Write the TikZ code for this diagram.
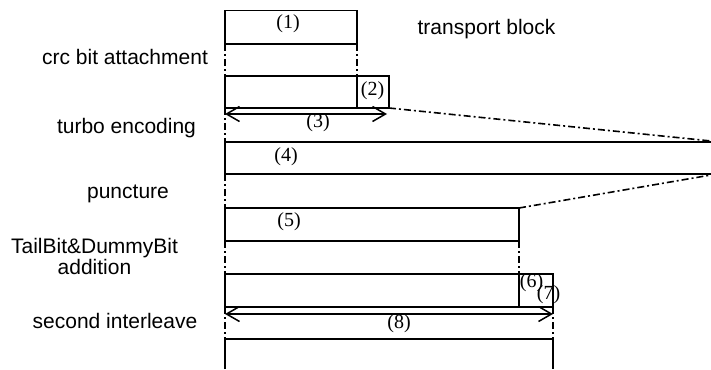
\documentclass[tikz,border=0pt]{standalone}
\usepackage{fontspec}
\setmainfont{Liberation Sans}
\newfontfamily\numfont{Liberation Serif}
\usetikzlibrary{arrows.meta}
\begin{document}
\begin{tikzpicture}[x=1pt,y=-1pt,
  blk/.style={draw, line width=1.9pt, rectangle, outer sep=0pt, inner sep=0pt, anchor=north west},
  edge/.style={line width=1.9pt},
  dd/.style={line width=1.6pt, dash pattern=on 7pt off 3pt on 2pt off 3pt},
  dim/.style={line width=1.5pt, {Straight Barb[length=13pt,width=15pt]}-{Straight Barb[length=13pt,width=15pt]}},
  lbl/.style={font=\fontsize{21}{21.5}\selectfont, anchor=base, inner sep=0pt},
  num/.style={font=\numfont\fontsize{20}{20}\selectfont, inner sep=0pt}]
\useasboundingbox (0,0) rectangle (711,369);

% blocks
\node[blk, minimum width=132pt, minimum height=33.5pt] (b1) at (225,10.5) {};
\node[blk, minimum width=132pt, minimum height=32pt] (b2a) at (225,76) {};
\node[blk, minimum width=32pt, minimum height=32pt] (b2b) at (357,76) {};
\node[blk, minimum width=294pt, minimum height=33pt] (b5) at (225,208) {};
\node[blk, minimum width=294pt, minimum height=33pt] (b6a) at (225,274) {};
\node[blk, minimum width=34pt, minimum height=33pt] (b6b) at (519,274) {};

% open blocks
\coordinate (c4tl) at (225,142);
\coordinate (c4tr) at (711,142);
\coordinate (c4bl) at (225,174);
\coordinate (c4br) at (711,174);
\draw[edge] (c4tr) -- (c4tl) -- (c4bl) -- (c4br);
\coordinate (b9tl) at (225,339);
\coordinate (b9tr) at (553,339);
\coordinate (b9bl) at (225,369);
\coordinate (b9br) at (553,369);
\draw[edge] (b9bl) -- (b9tl) -- (b9tr) -- (b9br);

% dash-dot guides
\draw[dd] (b1.south west) -- (b2a.north west);
\draw[dd] (b1.south east) -- (b2a.north east);
\draw[dd] (b2a.south west) -- (c4tl);
\draw[dd] (c4bl) -- (b5.north west);
\draw[dd] (b5.south west) -- (b6a.north west);
\draw[dd] (b5.south east) -- (b6a.north east);
\draw[dd] (b6a.south west) -- (b9tl);
\draw[dd] (b6b.south east) -- (b9tr);
\coordinate (s1) at (711,141);
\coordinate (s2) at (711,175);
\draw[dd] (b2b.south east) -- (s1);
\draw[dd] (b5.north east) -- (s2);

% dimension arrows
\coordinate (a3l) at (225,114);
\coordinate (a3r) at (387,114);
\draw[dim] (a3l) -- (a3r);
\coordinate (a8l) at (225,314);
\coordinate (a8r) at (553,314);
\draw[dim] (a8l) -- (a8r);

% numbers
\node[num] (n1) at (288,24) {(1)};
\node[num] (n2) at (372.5,91) {(2)};
\node[num] (n3) at (318,123) {(3)};
\node[num] (n4) at (286,157) {(4)};
\node[num] (n5) at (289,222) {(5)};
\node[num] (n6) at (531.5,283) {(6)};
\node[num] (n7) at (548.5,295) {(7)};
\node[num] (n8) at (399,324) {(8)};

% step labels
\node[lbl] (tb) at (486.5,35) {transport block};
\node[lbl] (crc) at (125,64.3) {crc bit attachment};
\node[lbl] (turbo) at (126.5,133.3) {turbo encoding};
\node[lbl] (punc) at (128,198) {puncture};
\node[lbl] (tail1) at (94.5,253) {TailBit\&DummyBit};
\node[lbl] (tail2) at (94.5,274.5) {addition};
\node[lbl] (sec) at (115,328) {second interleave};
\end{tikzpicture}
\end{document}
